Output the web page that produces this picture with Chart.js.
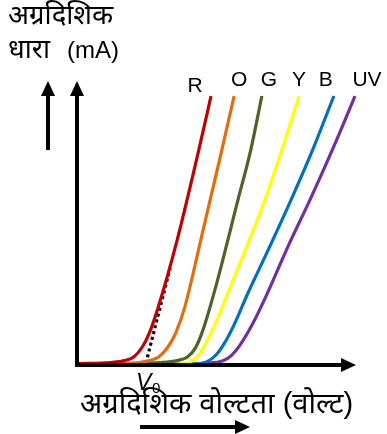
<!DOCTYPE html>
<html>
<head>
<meta charset="utf-8">
<script src="https://cdn.jsdelivr.net/npm/chart.js@4"></script>
<style>
  html, body { margin: 0; padding: 0; background: #fff; }
  canvas { display: block; }
</style>
</head>
<body>
<canvas id="ivChart" width="387" height="434"></canvas>
<script>
// LED forward characteristics: current against forward voltage, one curve per colour
const ledNames = ['R', 'O', 'G', 'Y', 'B', 'UV'];
const ledColors = ['#C00000', '#E46C0A', '#4F6228', '#FFFF00', '#0070C0', '#7030A0'];

// [voltage, current] points for each LED (scale 0-10 by 0-100)
const curveR = [[0, 0.5], [1.2, 0.9], [1.75, 1.7], [2.05, 3.0], [2.35, 6.5], [2.6, 11.5], [2.91, 20.5], [3.6, 45], [4.39, 78], [4.82, 97.1]];
const curveO = [[0.83, 0.4], [2.2, 0.9], [2.65, 1.7], [2.95, 3.0], [3.27, 6.5], [3.55, 11.5], [3.88, 21], [4.45, 45], [5.22, 78], [5.65, 97.1]];
const curveG = [[1.37, 0.4], [3.0, 0.9], [3.6, 1.6], [3.96, 2.8], [4.25, 6.0], [4.53, 12.6], [4.96, 27.1], [5.79, 59.6], [6.25, 77.6], [6.65, 97.1]];
const curveY = [[2.27, 0.2], [3.7, 0.4], [4.06, 1.1], [4.35, 3.2], [4.62, 7.5], [5.0, 15.5], [5.5, 27.8], [6.76, 59.6], [7.37, 77.6], [7.99, 97.1]];
const curveB = [[2.63, 0.2], [4.2, 0.4], [4.68, 1.2], [5.0, 3.6], [5.3, 7.8], [5.65, 14.5], [6.15, 26], [6.9, 42], [7.7, 59.6], [8.45, 77], [9.24, 97.1]];
const curveUV = [[3.17, 0.2], [4.68, 0.6], [5.25, 1.5], [5.55, 3.4], [5.85, 7.0], [6.3, 14.5], [6.83, 25.5], [7.6, 43], [8.38, 59.6], [9.2, 78], [10.0, 97.1]];
const ledCurves = [curveR, curveO, curveG, curveY, curveB, curveUV];

// tangent of the red curve carried down to the axis (V0)
const tangentR = [[2.48, 0.7], [3.35, 35.0]];

// where each name sits relative to the curve's last point (px)
const labelOffsets = [[-16, -10], [5, -16], [7, -16], [0, -16], [-8, -16], [12, -16]];

const FONT = '"Liberation Sans", Arial, "Noto Sans", sans-serif';

const toXY = pts => pts.map(p => ({ x: p[0], y: p[1] }));

const datasets = ledCurves.map((pts, i) => ({
    label: ledNames[i],
    data: toXY(pts),
    borderColor: ledColors[i],
    borderWidth: 3.2,
    cubicInterpolationMode: 'monotone',
    pointRadius: 0,
    fill: false,
    clip: false
}));
datasets.push({
    label: 'V0',
    data: toXY(tangentR),
    borderColor: '#000',
    borderWidth: 3.2,
    borderDash: [3, 3],
    pointRadius: 0,
    fill: false,
    clip: false
});

function arrow(ctx, x1, y1, x2, y2) {
    const ang = Math.atan2(y2 - y1, x2 - x1);
    const len = 15, half = 7;
    const bx = x2 - len * Math.cos(ang), by = y2 - len * Math.sin(ang);
    ctx.beginPath();
    ctx.moveTo(x1, y1);
    ctx.lineTo(bx, by);
    ctx.lineWidth = 4;
    ctx.strokeStyle = '#000';
    ctx.stroke();
    ctx.beginPath();
    ctx.moveTo(x2, y2);
    ctx.lineTo(bx + half * Math.sin(ang), by - half * Math.cos(ang));
    ctx.lineTo(bx - half * Math.sin(ang), by + half * Math.cos(ang));
    ctx.closePath();
    ctx.fillStyle = '#000';
    ctx.fill();
}

// draw text scaled so that it spans the given width
function fitText(ctx, text, x, baseline, width) {
    ctx.font = '20px ' + FONT;
    const size = 20 * width / ctx.measureText(text).width;
    ctx.font = size.toFixed(1) + 'px ' + FONT;
    ctx.fillText(text, x, baseline);
}

const decorations = {
    id: 'decorations',
    afterDatasetsDraw(chart) {
        const ctx = chart.ctx;
        const { left, right, top, bottom } = chart.chartArea;
        const xs = chart.scales.x, ys = chart.scales.y;
        ctx.save();

        // axes with arrow heads
        arrow(ctx, left, bottom + 2, left, top - 7);
        arrow(ctx, left - 2, bottom, right + 1, bottom);
        // loose direction arrows beside the titles
        arrow(ctx, 48, 150, 48, top - 7);
        arrow(ctx, 140, 427, 250, 427);

        // curve names
        ctx.fillStyle = '#000';
        ctx.font = '21px ' + FONT;
        ctx.textAlign = 'center';
        ctx.textBaseline = 'middle';
        ledCurves.forEach((pts, i) => {
            const last = pts[pts.length - 1];
            const px = xs.getPixelForValue(last[0]) + labelOffsets[i][0];
            const py = ys.getPixelForValue(last[1]) + labelOffsets[i][1];
            ctx.fillText(ledNames[i], px, py);
        });

        // V0 under the foot of the tangent
        const vx = xs.getPixelForValue(tangentR[0][0]);
        ctx.textAlign = 'left';
        ctx.textBaseline = 'alphabetic';
        ctx.font = 'italic 23px ' + FONT;
        ctx.fillText('V', vx - 10, 390);
        ctx.font = '15px ' + FONT;
        ctx.fillText('0', vx + 6, 393);

        // axis titles
        fitText(ctx, 'अग्रदिशिक', 8, 24, 105);
        fitText(ctx, 'धारा', 8, 58, 42);
        ctx.font = '24px ' + FONT;
        ctx.fillText('(mA)', 67, 58);
        fitText(ctx, 'अग्रदिशिक वोल्टता (वोल्ट)', 80, 413, 273);
        ctx.restore();
    }
};

new Chart(document.getElementById('ivChart').getContext('2d'), {
    type: 'line',
    data: { datasets: datasets },
    options: {
        responsive: false,
        animation: false,
        devicePixelRatio: 1,
        layout: { padding: { left: 77, right: 32, top: 88, bottom: 69 } },
        scales: {
            x: { type: 'linear', min: 0, max: 10, display: false },
            y: { type: 'linear', min: 0, max: 100, display: false }
        },
        plugins: {
            legend: { display: false },
            tooltip: { enabled: false }
        }
    },
    plugins: [decorations]
});
</script>
</body>
</html>
